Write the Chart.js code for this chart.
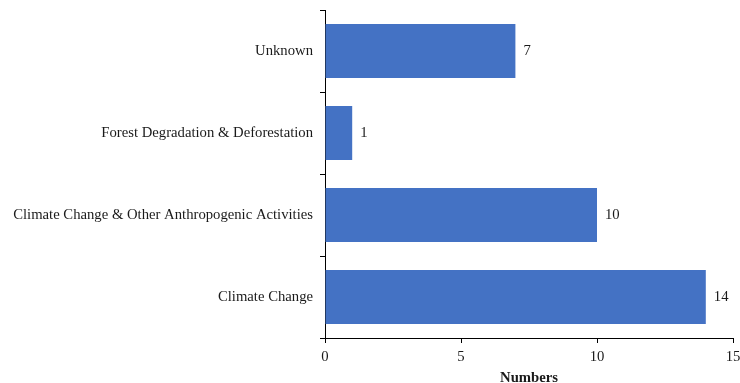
<!DOCTYPE html>
<html>
<head>
<meta charset="utf-8">
<script src="https://cdn.jsdelivr.net/npm/chart.js@4"></script>
<style>
  html, body { margin: 0; padding: 0; background: #fff; }
  #wrap { width: 740px; height: 383px; }
</style>
</head>
<body>
<div id="wrap"><canvas id="c" width="740" height="383"></canvas></div>
<script>
// Drivers, listed top to bottom
const categories = [
  "Unknown",
  "Forest Degradation & Deforestation",
  "Climate Change & Other Anthropogenic Activities",
  "Climate Change"
];
const counts = [7, 1, 10, 14];
const xTicks = [0, 5, 10, 15];

const FONT = "'Liberation Serif', 'Times New Roman', serif";
const TEXT = "#1a1a1a";
const SIZE = 14.7;

// Writes each bar's value just past its end
const valueLabels = {
  id: "valueLabels",
  afterDatasetsDraw(chart) {
    const ctx = chart.ctx;
    const meta = chart.getDatasetMeta(0);
    ctx.save();
    ctx.font = SIZE + "px " + FONT;
    ctx.fillStyle = TEXT;
    ctx.textAlign = "left";
    ctx.textBaseline = "middle";
    meta.data.forEach((bar, i) => {
      ctx.fillText(String(chart.data.datasets[0].data[i]), bar.x + 8, bar.y);
    });
    ctx.restore();
  }
};

new Chart(document.getElementById("c"), {
  type: "bar",
  data: {
    labels: categories,
    datasets: [{
      data: counts,
      backgroundColor: "#4472C4",
      borderWidth: 0,
      categoryPercentage: 1,
      barPercentage: 0.66
    }]
  },
  options: {
    indexAxis: "y",
    responsive: false,
    animation: false,
    layout: { padding: { left: 0, right: 7, top: 10, bottom: 0 } },
    plugins: { legend: { display: false }, tooltip: { enabled: false } },
    scales: {
      x: {
        min: 0,
        max: 15,
        afterBuildTicks(scale) { scale.ticks = xTicks.map(v => ({ value: v })); },
        afterFit(scale) {
          scale.height = 45;
          scale.paddingLeft = 0;
          scale.paddingRight = 0;
        },
        border: { color: "#000", width: 1 },
        grid: { drawOnChartArea: false, color: "#000", tickLength: 5 },
        ticks: { color: TEXT, font: { family: FONT, size: SIZE }, padding: 5, maxRotation: 0 },
        title: {
          display: true,
          text: "Numbers",
          color: TEXT,
          font: { family: FONT, size: SIZE, weight: "bold" },
          padding: { top: 4, bottom: -4 }
        }
      },
      y: {
        offset: true,
        afterFit(scale) {
          scale.width = 325;
          scale.paddingTop = 0;
          scale.paddingBottom = 0;
        },
        border: { color: "#000", width: 1 },
        grid: { drawOnChartArea: false, color: "#000", tickLength: 5, offset: true },
        ticks: { color: TEXT, font: { family: FONT, size: SIZE }, padding: 7 }
      }
    }
  },
  plugins: [valueLabels]
});
</script>
</body>
</html>
